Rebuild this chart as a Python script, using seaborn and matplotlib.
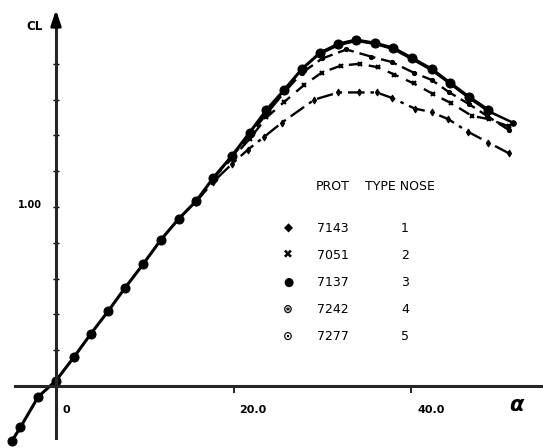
import matplotlib
matplotlib.use("Agg")
import matplotlib.pyplot as plt
import seaborn as sns
import pandas as pd
import matplotlib.transforms as mtrans

# ---------------- data ----------------
# series 7137 (top, solid, filled circles)
alpha_7137 = [-5.0, -4.0, -2.0, 0.0, 2.0, 3.9, 5.9, 7.8, 9.8, 11.8, 13.8, 15.8, 17.7,
              19.8, 21.8, 23.7, 25.7, 27.7, 29.7, 31.8, 33.8, 35.9, 38.0, 40.1, 42.3,
              44.4, 46.5, 48.7]
cl_7137 = [-0.31, -0.23, -0.06, 0.03, 0.16, 0.29, 0.42, 0.55, 0.68, 0.816, 0.933, 1.034,
           1.162, 1.285, 1.415, 1.542, 1.654, 1.771, 1.860, 1.911, 1.933, 1.916, 1.888,
           1.832, 1.771, 1.693, 1.615, 1.542]
# series 7277 (nearly on top of 7137)
alpha_7277 = [29.7, 31.8, 33.8, 35.9, 38.0, 40.1, 42.3, 44.4, 46.5, 48.7, 51.5]
cl_7277 = [1.855, 1.905, 1.928, 1.912, 1.882, 1.826, 1.765, 1.688, 1.610, 1.535, 1.47]
# series 7242 (dashed, second)
alpha_7242 = [17.7, 19.8, 21.8, 23.7, 25.7, 27.7, 30.0, 32.7, 35.5, 37.8, 40.3, 42.3,
              44.3, 46.5, 48.5, 51.0]
cl_7242 = [1.162, 1.28, 1.40, 1.52, 1.64, 1.75, 1.83, 1.88, 1.84, 1.81, 1.75, 1.71,
           1.64, 1.575, 1.51, 1.43]
# series 7051 (dashed, third)
alpha_7051 = [17.7, 19.8, 21.8, 23.7, 25.7, 27.9, 29.9, 32.1, 34.2, 36.3, 38.1, 40.3,
              42.5, 44.5, 46.8, 48.8, 51.0]
cl_7051 = [1.16, 1.27, 1.38, 1.50, 1.587, 1.68, 1.75, 1.79, 1.80, 1.78, 1.74, 1.69,
           1.63, 1.58, 1.51, 1.49, 1.45]
# series 7143 (dash-dot, lowest)
alpha_7143 = [15.8, 17.7, 19.8, 21.6, 23.4, 25.4, 29.1, 31.8, 34.1, 36.1, 37.8, 40.4,
              42.3, 44.2, 46.4, 48.7, 51.0]
cl_7143 = [1.03, 1.14, 1.24, 1.32, 1.39, 1.47, 1.60, 1.64, 1.64, 1.64, 1.61, 1.55,
           1.53, 1.49, 1.42, 1.36, 1.30]

legend_prot = ["7143", "7051", "7137", "7242", "7277"]
legend_type = ["1", "2", "3", "4", "5"]
legend_sym = ["\u25c6", "\u2716", "\u25cf", "\u229b", "\u2299"]

xtick_vals = [0, 20, 40]
xtick_labels = ["0", "20.0", "40.0"]
ytick_vals = [0.2, 0.4, 0.6, 0.8, 1.0, 1.2, 1.4, 1.6, 1.8]
ytick_labels = ["", "", "", "", "1.00", "", "", "", ""]

# ---------------- figure ----------------
sns.set_style("white")
plt.rcParams['font.family'] = ['DejaVu Sans']
W, H = 543, 448
fig = plt.figure(figsize=(W / 100, H / 100), dpi=100)
ax = fig.add_axes([0, 0, 1, 1])
ax.set_facecolor("white")

ink = "black"

def draw(a, c, **kw):
    df = pd.DataFrame({"alpha": a, "cl": c})
    sns.lineplot(data=df, x="alpha", y="cl", ax=ax, sort=False, color=ink,
                 markeredgecolor=ink, legend=False, **kw)

draw(alpha_7143, cl_7143, linestyle=(0, (7, 2.5, 1.5, 2.5)), linewidth=1.7,
     marker="d", markersize=3.5)
draw(alpha_7051, cl_7051, linestyle=(0, (5, 3.5)), linewidth=1.7,
     marker="x", markersize=3.5, markeredgewidth=1.5)
draw(alpha_7242, cl_7242, linestyle=(0, (7, 2.5)), linewidth=1.7,
     marker="o", markersize=3)
draw(alpha_7277, cl_7277, linestyle="-", linewidth=1.8,
     marker="o", markersize=4)
draw(alpha_7137, cl_7137, linestyle="-", linewidth=2.2,
     marker="o", markersize=6.5)

# ---------------- axes ----------------
x0px, xs = 56.0, 8.88
y0px, ys = 386.0, 179.0
ax.set_xlim(-x0px / xs, (W - x0px) / xs)
ax.set_ylim(-(H - y0px) / ys, y0px / ys)

for s in ["top", "right"]:
    ax.spines[s].set_visible(False)
ax.spines["left"].set_position(("data", 0))
ax.spines["bottom"].set_position(("data", 0))
ax.spines["left"].set_linewidth(2.2)
ax.spines["bottom"].set_linewidth(2.2)
ax.spines["left"].set_bounds(-(438 - y0px) / ys, (y0px - 20) / ys)
ax.spines["bottom"].set_bounds(-(x0px - 15) / xs, (W - x0px) / xs)
ax.annotate("", xy=(0, (y0px - 7) / ys), xytext=(0, (y0px - 30) / ys),
            arrowprops=dict(arrowstyle="-|>,head_length=0.9,head_width=0.3",
                            color=ink, lw=2.2))

ax.set_xticks(xtick_vals)
ax.set_xticklabels(xtick_labels)
ax.set_yticks(ytick_vals)
ax.set_yticklabels(ytick_labels)
ax.tick_params(axis="x", bottom=True, direction="out", length=5, width=1.2, pad=9,
               labelsize=8, colors=ink)
ax.tick_params(axis="y", left=True, direction="inout", length=4, width=1.0, pad=8,
               labelsize=7, colors=ink)
offx = mtrans.ScaledTranslation(6 / 100, 0, fig.dpi_scale_trans)
for lab in ax.get_xticklabels():
    lab.set_horizontalalignment("left")
    lab.set_transform(lab.get_transform() + offx)
    lab.set_fontweight("bold")
offy = mtrans.ScaledTranslation(0, 3 / 100, fig.dpi_scale_trans)
for lab in ax.get_yticklabels():
    lab.set_fontweight("bold")
    lab.set_transform(lab.get_transform() + offy)
ax.xaxis.get_major_ticks()[0].tick1line.set_visible(False)
ax.set_xlabel("")
ax.set_ylabel("")

def px(x, y):
    return x / W, 1 - y / H

ax.text(*px(34, 26), "CL", transform=ax.transAxes, ha="center", va="center",
        fontsize=8.5, fontweight="bold", color=ink)
ax.text(*px(516, 405), "\u03b1", transform=ax.transAxes, ha="center", va="center",
        fontsize=15, fontweight="bold", fontstyle="italic", color=ink)

# legend table
ax.text(*px(316, 186), "PROT", transform=ax.transAxes, ha="left", va="center",
        fontsize=9, color=ink)
ax.text(*px(365, 186), "TYPE NOSE", transform=ax.transAxes, ha="left", va="center",
        fontsize=9, color=ink)
row_y = [228, 255, 282, 309, 336]
for yy, sym, p, t in zip(row_y, legend_sym, legend_prot, legend_type):
    ax.text(*px(288, yy), sym, transform=ax.transAxes, ha="center", va="center",
            fontsize=8.5, fontweight="bold", color=ink)
    ax.text(*px(317, yy), p, transform=ax.transAxes, ha="left", va="center",
            fontsize=9, color=ink)
    ax.text(*px(405, yy), t, transform=ax.transAxes, ha="center", va="center",
            fontsize=9, color=ink)

fig.savefig("out.png", dpi=100, facecolor="white")
